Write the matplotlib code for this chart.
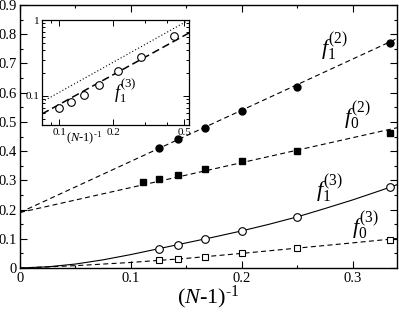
import matplotlib
matplotlib.use('Agg')
import matplotlib.pyplot as plt
import matplotlib.ticker as ticker

# serif look like the xmgrace original
plt.rcParams['font.family'] = 'Liberation Serif'
plt.rcParams['mathtext.fontset'] = 'custom'
plt.rcParams['mathtext.rm'] = 'Liberation Serif'
plt.rcParams['mathtext.it'] = 'Liberation Serif:italic'

# main panel, x = (N-1)^-1
x_f12 = [0.125, 0.1429, 0.1667, 0.2, 0.25, 0.3333]
y_f12 = [0.41, 0.44, 0.48, 0.538, 0.62, 0.77]
x_f02 = [0.1111, 0.125, 0.1429, 0.1667, 0.2, 0.25, 0.3333]
y_f02 = [0.293, 0.303, 0.317, 0.338, 0.365, 0.40, 0.462]
x_f13 = [0.125, 0.1429, 0.1667, 0.2, 0.25, 0.3333]
y_f13 = [0.065, 0.079, 0.099, 0.127, 0.175, 0.277]
x_f03 = [0.125, 0.1429, 0.1667, 0.2, 0.25, 0.3333]
y_f03 = [0.027, 0.031, 0.038, 0.051, 0.068, 0.096]

# fitted curves
fit12_x = [0, 0.34]
fit12_y = [0.19, 0.785]
fit02_x = [0, 0.34]
fit02_y = [0.19, 0.48]
fit13_x = [0, 0.025, 0.05, 0.075, 0.1, 0.125, 0.15, 0.175, 0.2, 0.225, 0.25,
           0.275, 0.3, 0.325, 0.34]
fit13_y = [0, 0.004, 0.0135, 0.028, 0.046, 0.066, 0.086, 0.106, 0.127, 0.150, 0.175,
           0.2035, 0.233, 0.265, 0.285]
fit03_x = [0, 0.05, 0.1, 0.15, 0.2, 0.25, 0.3, 0.34]
fit03_y = [0, 0.008, 0.019, 0.033, 0.05, 0.068, 0.086, 0.101]

main_xticks = [0, 0.1, 0.2, 0.3]
main_yticks = [0, 0.1, 0.2, 0.3, 0.4, 0.5, 0.6, 0.7, 0.8, 0.9]

# inset (log-log)
ins_x = [0.1, 0.116, 0.137, 0.166, 0.213, 0.286, 0.437]
ins_y = [0.0695, 0.0834, 0.103, 0.1395, 0.213, 0.326, 0.616]
ins_dash_x = [0.08, 0.53]
ins_dash_y = [0.058, 0.675]
ins_dot_x = [0.08, 0.53]
ins_dot_y = [0.0835, 1.0]
ins_xticks = [0.1, 0.2, 0.5]
ins_yticks = [0.1, 1]

W, H = 399, 313
fig = plt.figure(figsize=(W / 100, H / 100), dpi=100)
ax = fig.add_axes([20 / W, 45 / H, 377 / W, 263 / H])

dash = (0, (4.5, 3))
ax.plot(fit12_x, fit12_y, color='k', lw=0.8, ls=dash)
ax.plot(fit02_x, fit02_y, color='k', lw=0.8, ls=dash)
ax.plot(fit13_x, fit13_y, color='k', lw=0.8, ls='-')
ax.plot(fit03_x, fit03_y, color='k', lw=0.8, ls=dash)
ax.plot(x_f12, y_f12, 'o', color='k', ms=5, ls='none')
ax.plot(x_f02, y_f02, 's', color='k', ms=4.5, ls='none')
ax.plot(x_f13, y_f13, 'o', mfc='white', mec='k', mew=0.8, ms=5.5, ls='none')
ax.plot(x_f03, y_f03, 's', mfc='white', mec='k', mew=0.8, ms=4, ls='none')

ax.set_xlim(0, 0.34)
ax.set_ylim(0, 0.9)
ax.set_xticks(main_xticks)
ax.set_yticks(main_yticks)
ax.xaxis.set_minor_locator(ticker.MultipleLocator(0.05))
ax.yaxis.set_minor_locator(ticker.MultipleLocator(0.05))
fmt = ticker.FuncFormatter(lambda v, p: '%g' % v)
ax.xaxis.set_major_formatter(fmt)
ax.yaxis.set_major_formatter(fmt)
ax.tick_params(which='both', direction='in', top=True, right=True, labelsize=10.5, width=0.8)
ax.tick_params(which='major', length=5)
ax.tick_params(which='minor', length=2.5)
ax.tick_params(axis='y', pad=2)
ax.tick_params(axis='x', pad=3)
for s in ax.spines.values():
    s.set_linewidth(1.0)
ax.set_xlabel(r'$\mathit{(N}\text{-}\mathit{1)}^{\text{-}\mathit{1}}$', fontsize=16, labelpad=-1)

# curve labels
lab = dict(ha='center', va='center', fontsize=16)
fig.text(335 / W, 1 - 47 / H, r'$\mathit{f}_{\mathit{1}}^{\mathit{(2)}}$', **lab)
fig.text(358 / W, 1 - 116 / H, r'$\mathit{f}_{\mathit{0}}^{\mathit{(2)}}$', **lab)
fig.text(330 / W, 1 - 189 / H, r'$\mathit{f}_{\mathit{1}}^{\mathit{(3)}}$', **lab)
fig.text(366 / W, 1 - 226 / H, r'$\mathit{f}_{\mathit{0}}^{\mathit{(3)}}$', **lab)

# inset
axi = fig.add_axes([42 / W, 1 - 125 / H, 147 / W, 105 / H])
axi.plot(ins_dot_x, ins_dot_y, color='k', lw=0.8, ls=(0, (1, 2)))
axi.plot(ins_dash_x, ins_dash_y, color='k', lw=1.1, ls=(0, (5, 2.5)))
axi.plot(ins_x, ins_y, 'o', mfc='white', mec='k', mew=0.8, ms=5.5, ls='none')
axi.set_xscale('log')
axi.set_yscale('log')
axi.set_xlim(0.08, 0.53)
axi.set_ylim(0.0415, 1.0)
axi.set_xticks(ins_xticks)
axi.set_yticks(ins_yticks)
axi.xaxis.set_major_formatter(fmt)
axi.yaxis.set_major_formatter(fmt)
axi.xaxis.set_minor_formatter(ticker.NullFormatter())
axi.yaxis.set_minor_formatter(ticker.NullFormatter())
axi.tick_params(which='both', direction='in', top=True, right=True, labelsize=8, width=0.7, pad=2)
axi.tick_params(which='major', length=4)
axi.tick_params(which='minor', length=2)
for s in axi.spines.values():
    s.set_linewidth(0.9)
fig.text(125 / W, 1 - 91 / H, r'$\mathit{f}_{\mathit{1}}^{\mathit{(3)}}$', ha='center', va='center', fontsize=13)
fig.text(84 / W, 1 - 138 / H, r'$\mathit{(N}\text{-}\mathit{1)}^{\text{-}\mathit{1}}$',
         ha='center', va='center', fontsize=9)

fig.savefig('out.png', dpi=100)
